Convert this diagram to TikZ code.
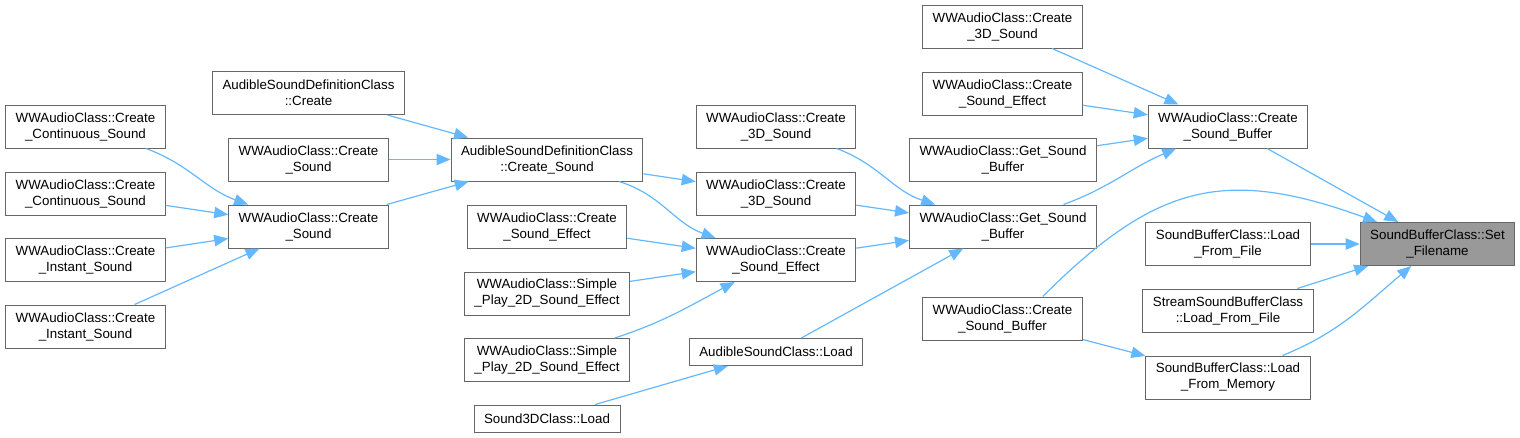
\documentclass[tikz,border=0pt]{standalone}
\usepackage{fontspec}
\setmainfont{Liberation Sans}
\usepackage{tikz}
\usetikzlibrary{arrows.meta}
\definecolor{edgeblue}{RGB}{99,184,255}
\definecolor{framegray}{RGB}{102,102,102}
\definecolor{focusgray}{RGB}{153,153,153}
\tikzset{
  fnode/.style={draw=framegray,line width=0.75pt,fill=white,minimum height=32.25pt,
    align=center,inner xsep=7.5pt,inner ysep=2pt,font=\fontsize{10}{12}\selectfont},
  fnodeone/.style={fnode,minimum height=20.25pt},
  fnodefocus/.style={fnode,fill=focusgray},
  callflow/.style={-{Triangle[length=10.5pt,width=8.5pt]},line width=0.9pt,draw=edgeblue}
}
\begin{document}
\begin{tikzpicture}[x=0.75pt,y=-0.75pt]
  \useasboundingbox (0,0) rectangle (1520,437);
  \node[fnode] (ccsa) at (85.5,126.5) {WWAudioClass::Create\\\_Continuous\_Sound};
  \node[fnode] (ccsb) at (85.5,193.5) {WWAudioClass::Create\\\_Continuous\_Sound};
  \node[fnode] (cisa) at (85.5,260) {WWAudioClass::Create\\\_Instant\_Sound};
  \node[fnode] (cisb) at (85.5,326.5) {WWAudioClass::Create\\\_Instant\_Sound};
  \node[fnode] (asdcc) at (308.5,93) {AudibleSoundDefinitionClass\\::Create};
  \node[fnode] (csa) at (308.5,159.5) {WWAudioClass::Create\\\_Sound};
  \node[fnode] (csb) at (308.5,226.5) {WWAudioClass::Create\\\_Sound};
  \node[fnode] (asdcs) at (547,159.5) {AudibleSoundDefinitionClass\\::Create\_Sound};
  \node[fnode] (csea) at (547,226.5) {WWAudioClass::Create\\\_Sound\_Effect};
  \node[fnode] (spa) at (547,293.5) {WWAudioClass::Simple\\\_Play\_2D\_Sound\_Effect};
  \node[fnode] (spb) at (547,360) {WWAudioClass::Simple\\\_Play\_2D\_Sound\_Effect};
  \node[fnodeone] (sdl) at (547,418.5) {Sound3DClass::Load};
  \node[fnode] (tda) at (776,126.5) {WWAudioClass::Create\\\_3D\_Sound};
  \node[fnode] (tdb) at (776,193.5) {WWAudioClass::Create\\\_3D\_Sound};
  \node[fnode] (cseb) at (776,260) {WWAudioClass::Create\\\_Sound\_Effect};
  \node[fnodeone] (ascl) at (776,352) {AudibleSoundClass::Load};
  \node[fnode] (tdc) at (1002.5,26.5) {WWAudioClass::Create\\\_3D\_Sound};
  \node[fnode] (csec) at (1002.5,93.5) {WWAudioClass::Create\\\_Sound\_Effect};
  \node[fnode] (gsba) at (1003,159.5) {WWAudioClass::Get\_Sound\\\_Buffer};
  \node[fnode] (gsbb) at (1003,226.5) {WWAudioClass::Get\_Sound\\\_Buffer};
  \node[fnode] (csbb) at (1002.5,318.5) {WWAudioClass::Create\\\_Sound\_Buffer};
  \node[fnode] (csbt) at (1228,126.5) {WWAudioClass::Create\\\_Sound\_Buffer};
  \node[fnode] (lff) at (1228,244) {SoundBufferClass::Load\\\_From\_File};
  \node[fnode] (sslf) at (1228,310.5) {StreamSoundBufferClass\\::Load\_From\_File};
  \node[fnode] (lfm) at (1228,377.5) {SoundBufferClass::Load\\\_From\_Memory};
  \node[fnodefocus] (sf) at (1437.5,244) {SoundBufferClass::Set\\\_Filename};
  \draw[callflow] (ccsa) to[out=-20,in=160] (csb); \draw[callflow] (ccsb) -- (csb); \draw[callflow] (cisa) -- (csb); \draw[callflow] (cisb) -- (csb);
  \draw[callflow] (asdcc) -- (asdcs); \draw[callflow] (csa) -- (asdcs); \draw[callflow] (csb) -- (asdcs);
  \draw[callflow] (asdcs) -- (tdb); \draw[callflow] (asdcs) to[out=-17,in=160] (cseb);
  \draw[callflow] (csea) -- (cseb); \draw[callflow] (spa) -- (cseb); \draw[callflow] (spb) to[out=18,in=-152] (cseb);
  \draw[callflow] (sdl) -- (ascl);
  \draw[callflow] (tda) to[out=-20,in=162] (gsbb); \draw[callflow] (tdb) -- (gsbb); \draw[callflow] (cseb) -- (gsbb); \draw[callflow] (ascl) -- (gsbb);
  \draw[callflow] (tdc) -- (csbt); \draw[callflow] (csec) -- (csbt); \draw[callflow] (gsba) -- (csbt); \draw[callflow] (gsbb) to[out=20,in=-157] (csbt);
  \draw[callflow] (csbb) -- (lfm);
  \draw[callflow] (csbt) -- (sf); \draw[callflow] ([xshift=-30pt]csbb.north east) to[out=45,in=160,looseness=1.2] (sf);
  \draw[callflow] (lff) -- (sf); \draw[callflow] (sslf) -- (sf); \draw[callflow] (lfm) to[out=22,in=-140] (sf);
\end{tikzpicture}
\end{document}
